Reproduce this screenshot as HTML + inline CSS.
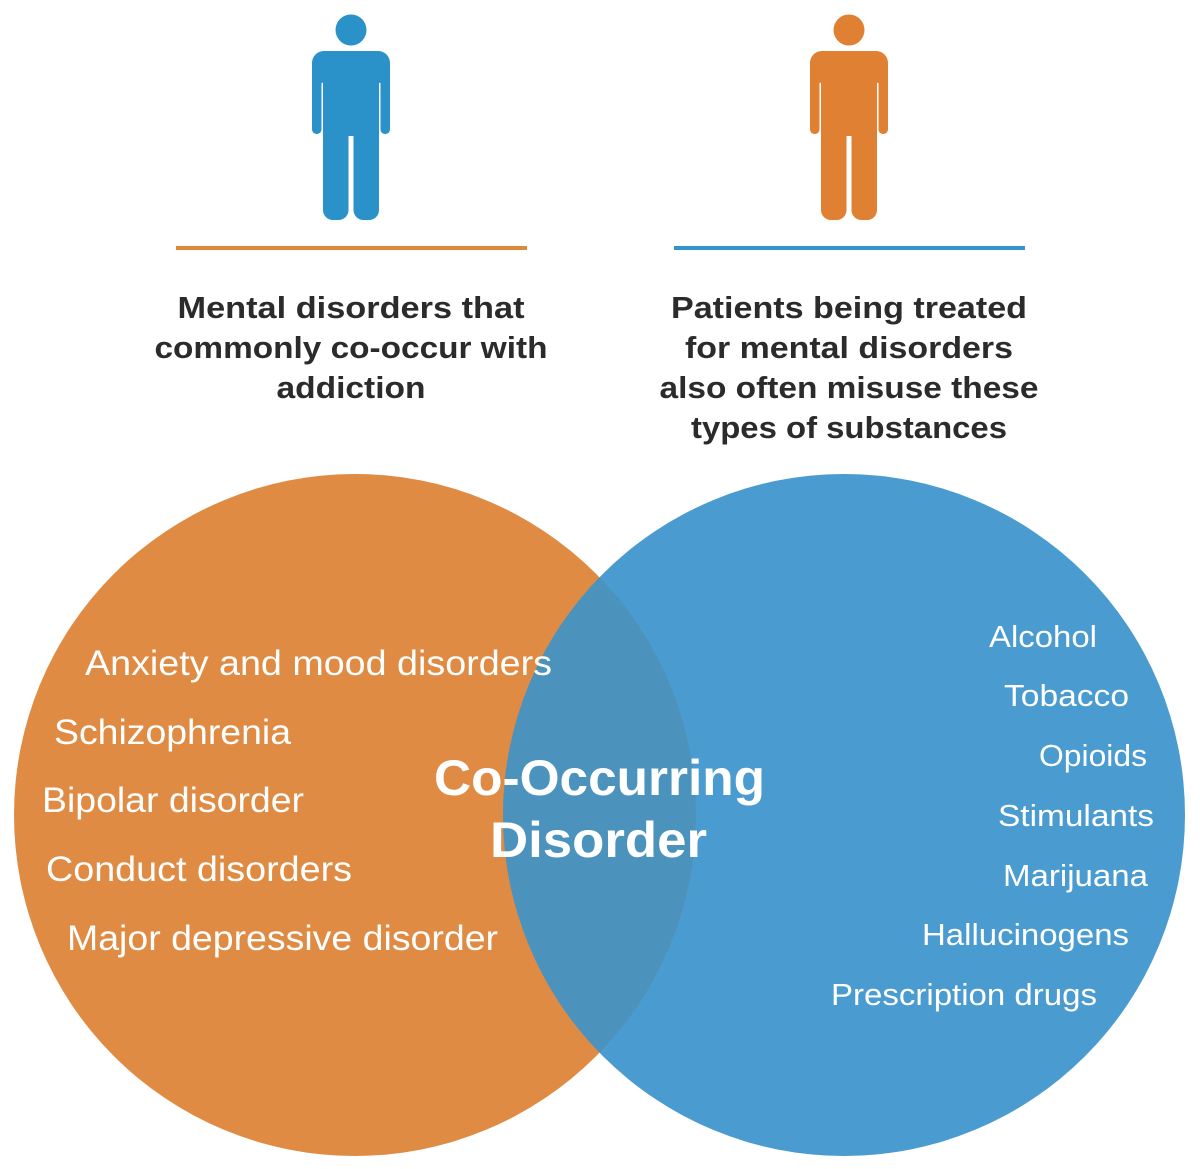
<!DOCTYPE html>
<html><head><meta charset="utf-8"><style>
html,body{margin:0;padding:0;background:#fff;}
svg{display:block;}
</style></head><body>
<svg width="1200" height="1169" viewBox="0 0 1200 1169" xmlns="http://www.w3.org/2000/svg">
<defs>
<clipPath id="cl"><circle cx="355" cy="815" r="341"/></clipPath>
<g id="person">
<circle cx="0" cy="30" r="15.5"/>
<rect x="-39" y="51" width="78" height="32" rx="12"/>
<rect x="-39" y="60" width="9.5" height="74" rx="4.5"/>
<rect x="29.5" y="60" width="9.5" height="74" rx="4.5"/>
<rect x="-28" y="51" width="56" height="85"/>
<rect x="-28" y="110" width="25.5" height="110" rx="10"/>
<rect x="2.5" y="110" width="25.5" height="110" rx="10"/>
</g>
</defs>
<g fill="#2a92c9"><use href="#person" x="351"/></g>
<g fill="#df8033"><use href="#person" x="849"/></g>
<rect x="176" y="246" width="351" height="4" fill="#df8838"/>
<rect x="674" y="246" width="351" height="4" fill="#3594cd"/>
<g font-family="Liberation Sans, sans-serif" font-weight="bold" font-size="31" fill="#2b2b2b" text-anchor="middle">
<text x="351" y="318" textLength="347" lengthAdjust="spacingAndGlyphs">Mental disorders that</text>
<text x="351" y="358" textLength="393" lengthAdjust="spacingAndGlyphs">commonly co-occur with</text>
<text x="351" y="398" textLength="149" lengthAdjust="spacingAndGlyphs">addiction</text>
<text x="849" y="318" textLength="356" lengthAdjust="spacingAndGlyphs">Patients being treated</text>
<text x="849" y="358" textLength="328" lengthAdjust="spacingAndGlyphs">for mental disorders</text>
<text x="849" y="398" textLength="379" lengthAdjust="spacingAndGlyphs">also often misuse these</text>
<text x="849" y="438" textLength="316" lengthAdjust="spacingAndGlyphs">types of substances</text>
</g>
<circle cx="355" cy="815" r="341" fill="#e08b43"/>
<circle cx="844" cy="815" r="341" fill="#4a9bcf"/>
<circle cx="844" cy="815" r="341" fill="#4b93bd" clip-path="url(#cl)"/>
<g font-family="Liberation Sans, sans-serif" font-size="35" fill="#fff">
<text x="85" y="675" textLength="467" lengthAdjust="spacingAndGlyphs">Anxiety and mood disorders</text>
<text x="54" y="744" textLength="237" lengthAdjust="spacingAndGlyphs">Schizophrenia</text>
<text x="42" y="812" textLength="262" lengthAdjust="spacingAndGlyphs">Bipolar disorder</text>
<text x="46" y="881" textLength="306" lengthAdjust="spacingAndGlyphs">Conduct disorders</text>
<text x="67" y="950" textLength="431" lengthAdjust="spacingAndGlyphs">Major depressive disorder</text>
</g>
<g font-family="Liberation Sans, sans-serif" font-size="31" fill="#fff">
<text x="989" y="647" textLength="108" lengthAdjust="spacingAndGlyphs">Alcohol</text>
<text x="1004" y="706" textLength="125" lengthAdjust="spacingAndGlyphs">Tobacco</text>
<text x="1039" y="766" textLength="108" lengthAdjust="spacingAndGlyphs">Opioids</text>
<text x="998" y="826" textLength="156" lengthAdjust="spacingAndGlyphs">Stimulants</text>
<text x="1003" y="886" textLength="145" lengthAdjust="spacingAndGlyphs">Marijuana</text>
<text x="922" y="945" textLength="207" lengthAdjust="spacingAndGlyphs">Hallucinogens</text>
<text x="831" y="1005" textLength="266" lengthAdjust="spacingAndGlyphs">Prescription drugs</text>
</g>
<g font-family="Liberation Sans, sans-serif" font-weight="bold" font-size="50" fill="#fff">
<text x="434" y="795" textLength="331" lengthAdjust="spacingAndGlyphs">Co-Occurring</text>
<text x="490" y="857" textLength="217" lengthAdjust="spacingAndGlyphs">Disorder</text>
</g>
</svg>
</body></html>
